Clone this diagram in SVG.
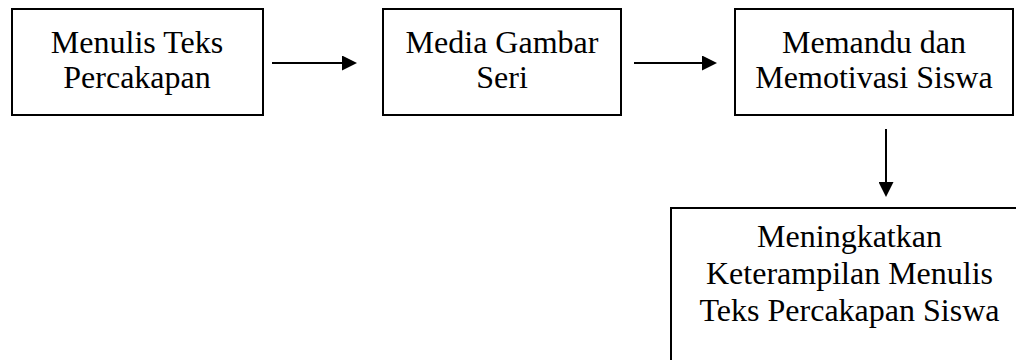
<svg xmlns="http://www.w3.org/2000/svg" width="1016" height="360" viewBox="0 0 1016 360">
  <style>
    .box { fill: #ffffff; stroke: #000000; stroke-width: 2; }
    .lbl { font-family: "Liberation Serif", "Times New Roman", serif; font-size: 32px; fill: #000000; text-anchor: middle; }
    .conn { stroke: #000000; stroke-width: 2; fill: none; marker-end: url(#arrow); }
  </style>
  <defs>
    <marker id="arrow" markerUnits="userSpaceOnUse" markerWidth="15" markerHeight="15" refX="8" refY="7.5" orient="auto">
      <path d="M0,0 L15,7.5 L0,15 z" fill="#000000"/>
    </marker>
  </defs>
  <rect x="0" y="0" width="1016" height="360" fill="#ffffff"/>
  <g id="node-menulis">
    <rect class="box" x="12" y="9" width="251" height="106"/>
    <text class="lbl" x="137" y="53">Menulis Teks</text>
    <text class="lbl" x="137" y="88">Percakapan</text>
  </g>
  <g id="node-media">
    <rect class="box" x="383" y="9" width="238" height="106"/>
    <text class="lbl" x="502" y="53">Media Gambar</text>
    <text class="lbl" x="502" y="88">Seri</text>
  </g>
  <g id="node-memandu">
    <rect class="box" x="735" y="9" width="278" height="106"/>
    <text class="lbl" x="874" y="53">Memandu dan</text>
    <text class="lbl" x="874" y="88">Memotivasi Siswa</text>
  </g>
  <g id="node-meningkatkan">
    <rect class="box" x="671" y="208" width="360" height="200"/>
    <text class="lbl" x="849.5" y="247">Meningkatkan</text>
    <text class="lbl" x="849.5" y="284">Keterampilan Menulis</text>
    <text class="lbl" x="849.5" y="321">Teks Percakapan Siswa</text>
  </g>
  <g id="connectors">
    <line class="conn" x1="272" y1="63" x2="350" y2="63"/>
    <line class="conn" x1="634" y1="63" x2="710" y2="63"/>
    <line class="conn" x1="886" y1="129" x2="886" y2="190"/>
  </g>
</svg>
